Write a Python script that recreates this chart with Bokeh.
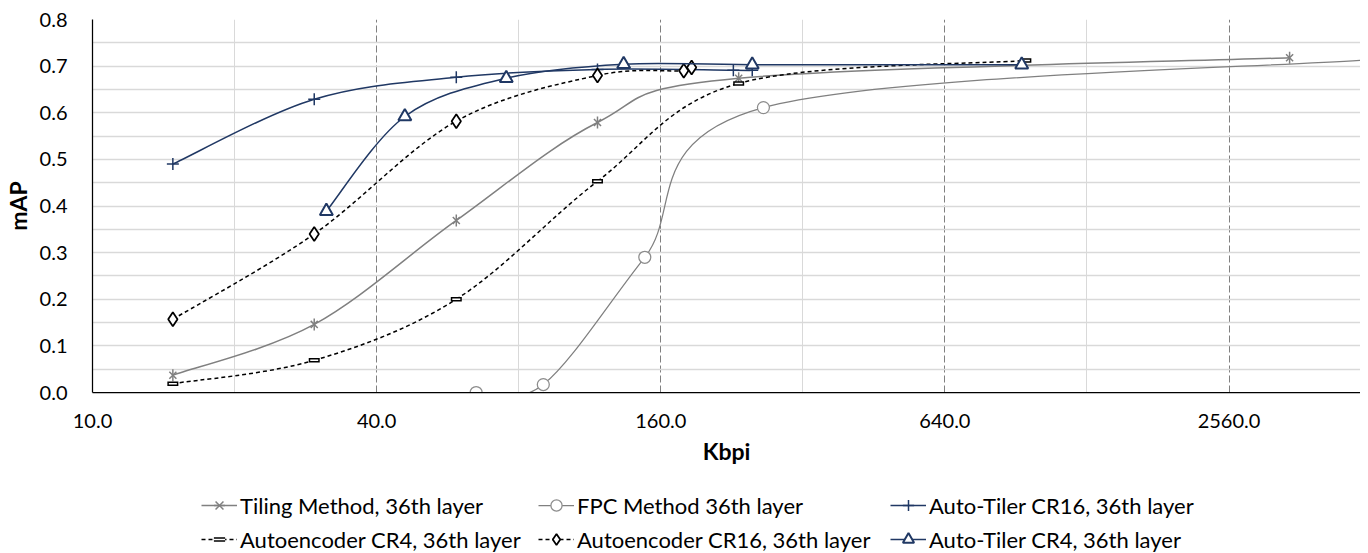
import math
from bokeh.plotting import figure
from bokeh.layouts import column
from bokeh.models import (Range1d, FixedTicker, PrintfTickFormatter, Legend,
                          LegendItem, ColumnDataSource)
from bokeh.embed import file_html
from bokeh.resources import INLINE

# ---------------- data ----------------
x_ticks = [10, 40, 160, 640, 2560]
x_minor = [20, 80, 320, 1280]
y_ticks = [0.0, 0.1, 0.2, 0.3, 0.4, 0.5, 0.6, 0.7, 0.8]
y_minor = [0.05, 0.15, 0.25, 0.35, 0.45, 0.55, 0.65, 0.75]

tiling_x = [14.8, 29.5, 59.0, 117.5, 234.0, 3440.0]
tiling_y = [0.037, 0.146, 0.369, 0.579, 0.674, 0.718]

fpc_x = [65.0, 90.2, 148.0, 264.0, 5120.0]
fpc_y = [0.0, 0.017, 0.290, 0.611, 0.714]

at16_x = [14.8, 29.5, 59.0, 117.5, 228.0, 250.0]
at16_y = [0.490, 0.629, 0.676, 0.693, 0.691, 0.691]

ae4_x = [14.8, 29.5, 59.0, 117.5, 234.0, 950.0]
ae4_y = [0.019, 0.069, 0.200, 0.453, 0.663, 0.712]

ae16_x = [14.8, 29.5, 59.0, 117.5, 179.0, 186.0]
ae16_y = [0.157, 0.340, 0.582, 0.680, 0.690, 0.697]

at4_x = [31.3, 45.9, 75.3, 133.5, 250.0, 931.0]
at4_y = [0.389, 0.592, 0.674, 0.704, 0.703, 0.703]

labels = ["Tiling Method, 36th layer", "FPC Method 36th layer",
          "Auto-Tiler CR16, 36th layer", "Autoencoder CR4, 36th layer",
          "Autoencoder CR16, 36th layer", "Auto-Tiler CR4, 36th layer"]

# ---------------- styling ----------------
NAVY = "#203864"
GREY = "#808080"
FONT = "Lato"

W = 1360
LEFT, TOP, FRAME_H, BOTTOM = 81, 19, 373, 88
H1 = TOP + FRAME_H + BOTTOM
H2 = 553 - H1
X_END = 10 * 2 ** ((W - LEFT) / 143.3)   # visible part of the log2 axis

p = figure(width=W, height=H1, x_axis_type="log",
           x_range=Range1d(10, X_END), y_range=Range1d(0, 0.8),
           output_backend="svg", toolbar_location=None,
           min_border_left=LEFT, min_border_right=0, min_border_top=TOP,
           min_border_bottom=BOTTOM)
p.outline_line_color = None

# axes
p.xaxis.ticker = FixedTicker(ticks=x_ticks, minor_ticks=x_minor)
p.yaxis.ticker = FixedTicker(ticks=y_ticks, minor_ticks=y_minor)
p.xaxis.formatter = PrintfTickFormatter(format="%.1f")
p.yaxis.formatter = PrintfTickFormatter(format="%.1f")
for ax in (p.xaxis[0], p.yaxis[0]):
    ax.major_tick_line_color = None
    ax.minor_tick_line_color = None
    ax.major_tick_in = 0
    ax.major_tick_out = 0
    ax.minor_tick_in = 0
    ax.minor_tick_out = 0
    ax.axis_line_color = "black"
    ax.axis_line_width = 1.25
    ax.major_label_text_font = FONT
    ax.major_label_text_font_size = "20px"
    ax.major_label_text_color = "black"
    ax.axis_label_text_font = FONT
    ax.axis_label_text_font_size = "23px"
    ax.axis_label_text_font_style = "bold"
    ax.axis_label_text_color = "black"
p.xaxis.axis_label = "Kbpi"
p.yaxis.axis_label = "mAP"
p.xaxis.major_label_standoff = 21
p.xaxis.axis_label_standoff = 6
p.yaxis.major_label_standoff = 25
p.yaxis.axis_label_standoff = 5

# grids
p.xgrid.grid_line_color = GREY
p.xgrid.grid_line_dash = "7 3"
p.xgrid.grid_line_width = 1
p.xgrid.minor_grid_line_color = "#D9D9D9"
p.xgrid.minor_grid_line_width = 1
p.ygrid.grid_line_color = "#D9D9D9"
p.ygrid.grid_line_width = 1.5
p.ygrid.minor_grid_line_color = "#D9D9D9"
p.ygrid.minor_grid_line_width = 1.5


def smooth_source(xs, ys):
    """Excel-style smoothed line: cubic Bezier segments (Catmull-Rom
    control points computed in log-x space)."""
    u = [math.log10(v) for v in xs]
    n = len(u)
    d = dict(x0=[], y0=[], x1=[], y1=[], cx0=[], cy0=[], cx1=[], cy1=[])
    for i in range(n - 1):
        a = max(i - 1, 0)
        b = min(i + 2, n - 1)
        c1u = u[i] + (u[i + 1] - u[a]) / 6
        c1y = ys[i] + (ys[i + 1] - ys[a]) / 6
        c2u = u[i + 1] - (u[b] - u[i]) / 6
        c2y = ys[i + 1] - (ys[b] - ys[i]) / 6
        d["x0"].append(xs[i]); d["y0"].append(ys[i])
        d["x1"].append(xs[i + 1]); d["y1"].append(ys[i + 1])
        d["cx0"].append(10 ** c1u); d["cy0"].append(c1y)
        d["cx1"].append(10 ** c2u); d["cy1"].append(c2y)
    return ColumnDataSource(d)


# series styles: (line colour, dash, width, [marker specs])
TIL_M = [dict(marker="x", size=10, line_color=GREY, line_width=1.5),
         dict(marker="dash", angle=math.pi / 2, size=12, line_color=GREY,
              line_width=1.5)]
FPC_M = [dict(marker="circle", size=12, fill_color="white",
              line_color="#8C8C8C", line_width=1.25)]
AT16_M = [dict(marker="cross", size=12, line_color=NAVY, line_width=1.5)]
AE4_M = [dict(marker="dash", size=11, line_color="black", line_width=4.5),
         dict(marker="dash", size=8, line_color="white", line_width=1.5)]
AE16_M = [dict(marker="diamond", size=14, fill_color="white",
               line_color="black", line_width=1.75)]
AT4_M = [dict(marker="triangle", size=13, fill_color="white",
              line_color=NAVY, line_width=2)]

series = [
    (tiling_x, tiling_y, GREY, "solid", 1.5, TIL_M),
    (fpc_x, fpc_y, GREY, "solid", 1.25, FPC_M),
    (at16_x, at16_y, NAVY, "solid", 1.5, AT16_M),
    (ae4_x, ae4_y, "black", "4 3", 1.5, AE4_M),
    (ae16_x, ae16_y, "black", "4 3", 1.5, AE16_M),
    (at4_x, at4_y, NAVY, "solid", 1.5, AT4_M),
]

for xs, ys, col, dash, lw, marks in series:
    p.bezier(x0="x0", y0="y0", x1="x1", y1="y1", cx0="cx0", cy0="cy0",
             cx1="cx1", cy1="cy1", source=smooth_source(xs, ys),
             line_color=col, line_width=lw, line_dash=dash)
    for m in marks:
        p.scatter(xs, ys, **m)

# ---------------- legend strip (second canvas below the plot) ----------------
p2 = figure(width=W, height=H2, x_range=Range1d(0, 1), y_range=Range1d(0, 1),
            x_axis_type=None, y_axis_type=None, output_backend="svg",
            toolbar_location=None, min_border=0)
p2.outline_line_color = None
p2.grid.visible = False

# legend proxies: one point each, lying outside the strip's visible range
px, py = [-5.0], [-5.0]
items = []
for (xs, ys, col, dash, lw, marks), lab in zip(series, labels):
    rs = [p2.line(x=px, y=py, line_color=col, line_width=lw, line_dash=dash)]
    for m in marks:
        rs.append(p2.scatter(x=px, y=py, **m))
    items.append(LegendItem(label=lab, renderers=rs))

# Excel lays the six entries out in two rows of three
for idx, xoff in (((0, 3), 109), ((1, 4), 446), ((2, 5), 798)):
    leg = Legend(items=[items[i] for i in idx], location=(xoff, 0),
                 orientation="vertical", label_text_font=FONT,
                 label_text_font_size="22px", label_text_color="black",
                 glyph_width=36, glyph_height=28, label_height=28,
                 label_standoff=3, spacing=6, padding=0, margin=0,
                 border_line_color=None, background_fill_alpha=0)
    p2.add_layout(leg, "center")

open("out.html", "w").write(file_html(column(p, p2, spacing=0), INLINE))
